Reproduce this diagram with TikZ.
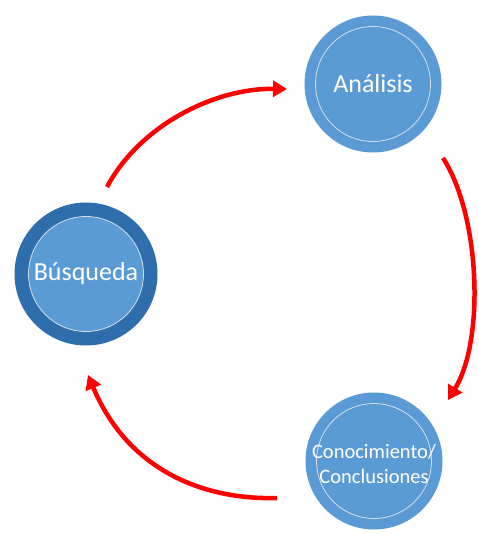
\documentclass[tikz,border=0pt]{standalone}
\usepackage{fontspec}
\setmainfont{Carlito}
\usetikzlibrary{arrows.meta}
\definecolor{stageblue}{HTML}{5B9BD5}
\definecolor{stagedark}{HTML}{2E6EAD}
\definecolor{ringline}{HTML}{D6DEE8}
\definecolor{flowred}{HTML}{FF0000}
\tikzset{
  stage/.style={circle, fill=stageblue, minimum size=137pt, inner sep=0pt},
  activestage/.style={circle, fill=stagedark, minimum size=143pt, inner sep=0pt},
  innerring/.style={circle, draw=ringline, line width=0.8pt, fill=stageblue,
    minimum size=115pt, inner sep=0pt},
  label/.style={text=white, align=center, inner sep=0pt}
}
\tikzset{
  flow/.style={draw=flowred, line width=4.5pt,
    -{Triangle[length=14pt,width=16pt]}}
}
\begin{document}
\begin{tikzpicture}[x=1pt,y=-1pt]
\useasboundingbox (0,0) rectangle (478,534);

% stage circles with their inner rings
\node[stage] (analisis) at (373,84) {};
\node[innerring] (analisisIn) at (analisis) {};
\node[label, font=\fontsize{26}{30}\selectfont] (analisisTx) at (analisis) {Análisis};

\node[activestage] (busqueda) at (86,274) {};
\node[innerring] (busquedaIn) at (busqueda) {};
\node[label, font=\fontsize{26}{30}\selectfont] (busquedaTx) at (busqueda) {Búsqueda};

\node[stage] (conoc) at (374,461) {};
\node[innerring] (conocIn) at (conoc) {};
\node[label, font=\fontsize{20.5}{25}\selectfont] (conocTx) at (374,464) {Conocimiento/\\Conclusiones};

% flow arrows between stages
\coordinate (a1) at (107,187);
\coordinate (a2) at (287,89);
\coordinate (b1) at (443,158);
\coordinate (b2) at (448,400);
\coordinate (c1) at (277,498);
\coordinate (c2) at (88,375);

\draw[flow] (a1) .. controls (140,125) and (215,88) .. (a2);
\draw[flow] (b1) .. controls (480,215) and (485,340) .. (b2);
\draw[flow] (c1) .. controls (210,500) and (130,475) .. (c2);
\end{tikzpicture}
\end{document}
